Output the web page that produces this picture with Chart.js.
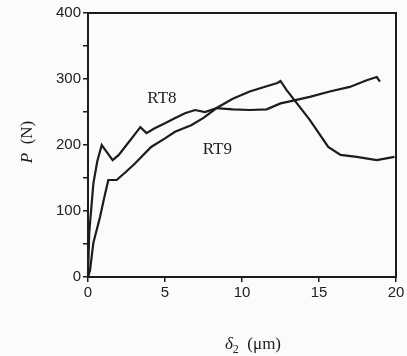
<!DOCTYPE html>
<html>
<head>
<meta charset="utf-8">
<script src="https://cdn.jsdelivr.net/npm/chart.js@4/dist/chart.umd.min.js"></script>
<style>
html,body{margin:0;padding:0;background:#fafbfc;}
#wrap{width:407px;height:356px;position:relative;}
</style>
</head>
<body>
<div id="wrap"><canvas id="c" width="407" height="356"></canvas></div>
<script>
// RT8 curve (early spike near 200, then rises to ~300 at the end)
const rt8X = [0, 0.08, 0.35, 0.6, 0.89, 1.2, 1.6, 2.0, 2.5, 3.0, 3.4, 3.8, 4.3, 5.0, 5.6, 6.3, 6.95, 7.6, 8.35, 9.4, 10.5, 11.6, 12.5, 13.1, 14.4, 15.7, 17.0, 18.1, 18.75, 18.96];
const rt8P = [0, 67, 142, 175, 200, 190, 177, 185, 200, 215, 227, 218, 225, 233, 240, 248, 253, 250, 256, 254, 253, 254, 263, 266, 273, 281, 288, 298, 303, 296];
// RT9 curve (peaks near 297 at 12.5, then drops to ~180)
const rt9X = [0, 0.13, 0.35, 0.78, 1.1, 1.32, 1.86, 2.4, 3.05, 4.1, 5.0, 5.65, 6.7, 7.5, 8.35, 9.4, 10.5, 11.6, 12.3, 12.5, 12.9, 14.4, 15.6, 16.4, 17.45, 18.75, 19.9];
const rt9P = [0, 10, 52, 91, 125, 147, 147, 158, 172, 197, 210, 220, 230, 241, 256, 270, 281, 289, 294, 297, 283, 238, 197, 185, 182, 177, 182];
const xTicks = [0, 5, 10, 15, 20];
const yTicks = [0, 100, 200, 300, 400];
const curveLabels = [
  {text: 'RT8', x: 4.8, y: 271},
  {text: 'RT9', x: 8.4, y: 193}
];

const toPts = (xs, ys) => xs.map((x, i) => ({x: x, y: ys[i]}));
const ink = '#1c1c1c';

const boxPlugin = {
  id: 'box',
  afterDraw(chart) {
    const {ctx, chartArea: a, scales} = chart;
    ctx.save();
    ctx.strokeStyle = ink;
    ctx.lineWidth = 2;
    ctx.strokeRect(a.left, a.top, a.right - a.left, a.bottom - a.top);
    ctx.fillStyle = ink;
    ctx.font = '17px "Liberation Serif", serif';
    ctx.textAlign = 'center';
    ctx.textBaseline = 'middle';
    curveLabels.forEach(l => {
      ctx.fillText(l.text, scales.x.getPixelForValue(l.x), scales.y.getPixelForValue(l.y));
    });
    // y title
    ctx.save();
    ctx.translate(28, 142);
    ctx.rotate(-Math.PI / 2);
    ctx.textAlign = 'left';
    ctx.font = 'italic 17px "Liberation Serif", serif';
    const pW = ctx.measureText('P').width;
    ctx.font = '17px "Liberation Serif", serif';
    const rest = '  (N)';
    const rW = ctx.measureText(rest).width;
    let sx = -(pW + rW) / 2;
    ctx.font = 'italic 17px "Liberation Serif", serif';
    ctx.fillText('P', sx, 0);
    ctx.font = '17px "Liberation Serif", serif';
    ctx.fillText(rest, sx + pW, 0);
    ctx.restore();
    // x title
    ctx.textAlign = 'left';
    ctx.font = 'italic 17px "Liberation Serif", serif';
    const d = 'δ';
    const dW = ctx.measureText(d).width;
    ctx.font = '12px "Liberation Serif", serif';
    const sW = ctx.measureText('2').width;
    ctx.font = '17px "Liberation Serif", serif';
    const t = '  (μm)';
    const tW = ctx.measureText(t).width;
    const cx = 253;
    let x0 = cx - (dW + sW + tW) / 2;
    const yT = 345;
    ctx.font = 'italic 17px "Liberation Serif", serif';
    ctx.fillText(d, x0, yT);
    ctx.font = '12px "Liberation Serif", serif';
    ctx.fillText('2', x0 + dW, yT + 5);
    ctx.font = '17px "Liberation Serif", serif';
    ctx.fillText(t, x0 + dW + sW, yT);
    ctx.restore();
  }
};

new Chart(document.getElementById('c'), {
  type: 'line',
  data: {
    datasets: [
      {label: 'RT8', data: toPts(rt8X, rt8P), borderColor: ink, borderWidth: 2.2, pointRadius: 0, tension: 0, fill: false},
      {label: 'RT9', data: toPts(rt9X, rt9P), borderColor: ink, borderWidth: 2.2, pointRadius: 0, tension: 0, fill: false}
    ]
  },
  options: {
    responsive: false,
    animation: false,
    layout: {padding: {left: 0, right: 11, top: 13, bottom: 0}},
    plugins: {legend: {display: false}, tooltip: {enabled: false}},
    scales: {
      x: {
        type: 'linear', min: 0, max: 20,
        afterBuildTicks: s => { s.ticks = xTicks.map(v => ({value: v})); },
        afterFit: s => { s.height = 356 - 277; },
        grid: {drawOnChartArea: false, drawTicks: true, tickLength: 5, color: ink, lineWidth: 1.5},
        border: {display: true, color: ink, width: 2},
        ticks: {color: '#222', font: {family: '"Liberation Sans", sans-serif', size: 15}, padding: 2, maxRotation: 0}
      },
      y: {
        type: 'linear', min: 0, max: 400,
        afterBuildTicks: s => { s.ticks = [0,50,100,150,200,250,300,350,400].map(v => ({value: v})); },
        afterFit: s => { s.width = 88; },
        grid: {drawOnChartArea: false, drawTicks: true, tickLength: 5, color: ink, lineWidth: 1.5},
        border: {display: true, color: ink, width: 2},
        ticks: {
          color: '#222', font: {family: '"Liberation Sans", sans-serif', size: 15}, padding: 2,
          callback: v => yTicks.includes(v) ? String(v) : ''
        }
      }
    }
  },
  plugins: [boxPlugin]
});
</script>
</body>
</html>
